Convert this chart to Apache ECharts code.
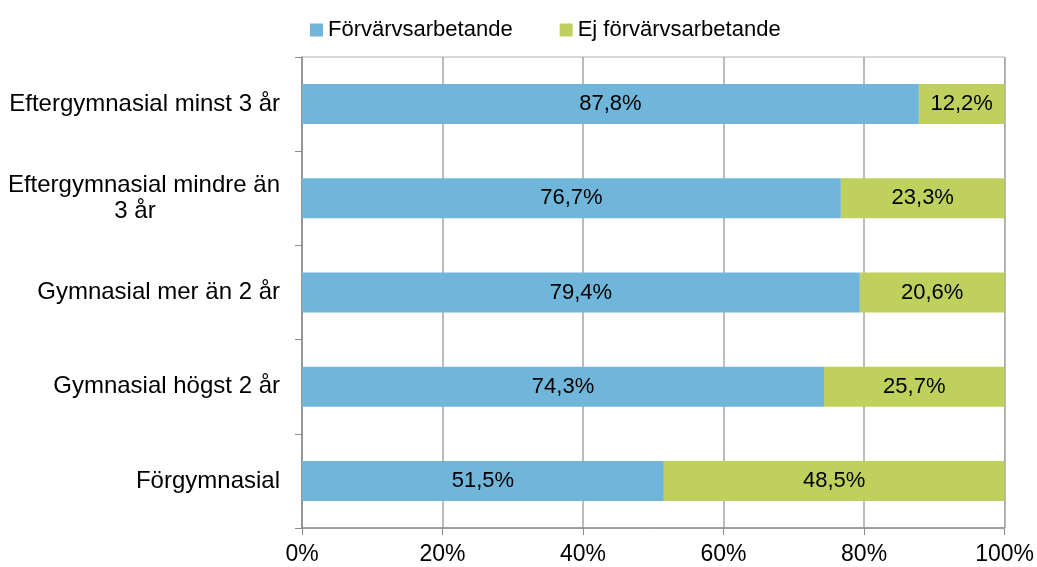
<!DOCTYPE html>
<html>
<head>
<meta charset="utf-8">
<script src="https://cdn.jsdelivr.net/npm/echarts@6/dist/echarts.min.js"></script>
<style>html,body{margin:0;padding:0;background:#fff;}#c{width:1037px;height:567px;}</style>
</head>
<body>
<div id="c"></div>
<script>
const categories = ['Förgymnasial', 'Gymnasial högst 2 år', 'Gymnasial mer än 2 år', 'Eftergymnasial mindre än 3 år', 'Eftergymnasial minst 3 år'];
const seriesNames = ['Förvärvsarbetande', 'Ej förvärvsarbetande'];
const working = [51.5, 74.3, 79.4, 76.7, 87.8];
const notWorking = [48.5, 25.7, 20.6, 23.3, 12.2];
const xTicks = [0, 20, 40, 60, 80, 100];

const font = 'Liberation Sans, Arial, sans-serif';
const chart = echarts.init(document.getElementById('c'));
function lbl(p){ return p.value.toFixed(1).replace('.', ',') + '%'; }
chart.setOption({
  animation: false,
  textStyle: {fontFamily: font},
  legend: {
    top: 14, left: 305,
    itemWidth: 13, itemHeight: 13, itemGap: 47,
    icon: 'rect',
    textStyle: {fontSize: 22, color: '#000', fontFamily: font},
    data: seriesNames
  },
  grid: {left: 302, right: 30, top: 57, bottom: 39, show: true, borderColor: '#b3b3b3', borderWidth: 1},
  xAxis: {
    type: 'value', min: xTicks[0], max: xTicks[xTicks.length-1], interval: 20,
    axisLine: {show: true, lineStyle: {color: '#8c8c8c', width: 1.5}},
    axisTick: {show: true, length: 7, lineStyle: {color: '#8c8c8c'}},
    splitLine: {show: true, lineStyle: {color: '#a6a6a6', width: 1.5}},
    axisLabel: {formatter: '{value}%', fontSize: 23, color: '#000', margin: 15, fontFamily: font}
  },
  yAxis: {
    type: 'category', data: categories,
    axisLine: {show: true, lineStyle: {color: '#8c8c8c', width: 1.5}},
    axisTick: {show: true, length: 7, lineStyle: {color: '#8c8c8c'}},
    axisLabel: {
      fontSize: 24, color: '#000', margin: 22, fontFamily: font, lineHeight: 26,
      formatter: function(v){
        if (v === 'Eftergymnasial mindre än 3 år') return '{c|Eftergymnasial mindre än}\n{d|3 år}';
        return v;
      },
      rich: {
        c: {align: 'center', fontSize: 24, color: '#000', fontFamily: font, lineHeight: 26},
        d: {align: 'center', fontSize: 24, color: '#000', fontFamily: font, lineHeight: 26, padding: [0, 18, 0, 0]}
      }
    }
  },
  series: [
    {name: seriesNames[0], type: 'bar', stack: 'a', data: working, barWidth: 40,
     itemStyle: {color: '#70b6da'},
     label: {show: true, position: 'inside', formatter: lbl, fontSize: 22, color: '#000', fontFamily: font}},
    {name: seriesNames[1], type: 'bar', stack: 'a', data: notWorking, barWidth: 40,
     itemStyle: {color: '#bfd05d'},
     label: {show: true, position: 'inside', formatter: lbl, fontSize: 22, color: '#000', fontFamily: font}}
  ]
});
</script>
</body>
</html>
